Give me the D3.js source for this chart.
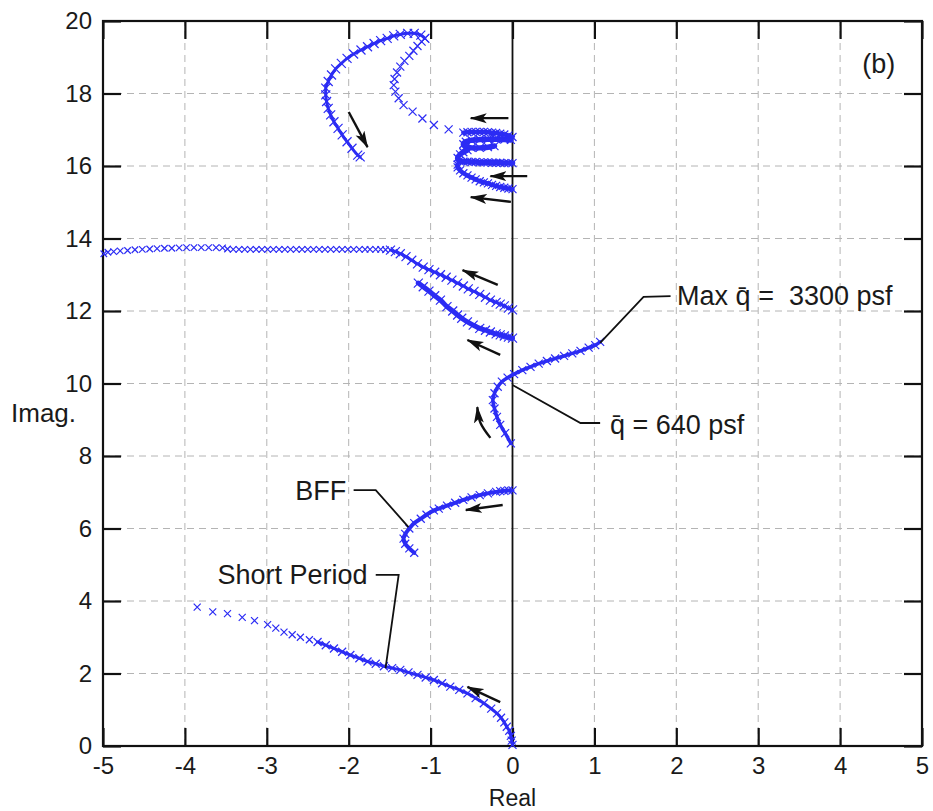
<!DOCTYPE html>
<html>
<head>
<meta charset="utf-8">
<script src="https://cdn.jsdelivr.net/npm/d3@7"></script>
<style>
  body { margin: 0; background: #fff; }
  text { font-family: 'Liberation Sans', Arial, sans-serif; fill: #1a1a1a; }
</style>
</head>
<body>
<svg id="locus" width="933" height="811"></svg>
<script>
// tick values
const xTicks = [-5, -4, -3, -2, -1, 0, 1, 2, 3, 4, 5]
const yTicks = [0, 2, 4, 6, 8, 10, 12, 14, 16, 18, 20]

// root locus branches, [real, imag]
const shortPeriodDense = [[0, 0.03], [-0.01, 0.15], [-0.02, 0.28], [-0.04, 0.42], [-0.07, 0.53], [-0.1, 0.65], [-0.14, 0.78],
  [-0.19, 0.9], [-0.26, 1.03], [-0.35, 1.18], [-0.45, 1.32], [-0.55, 1.45], [-0.65, 1.55], [-0.76, 1.64], [-0.86, 1.73],
  [-0.96, 1.82], [-1.06, 1.89], [-1.16, 1.96], [-1.27, 2.03], [-1.37, 2.1], [-1.47, 2.15], [-1.57, 2.2], [-1.67, 2.27],
  [-1.77, 2.33], [-1.87, 2.42], [-1.98, 2.51], [-2.08, 2.6], [-2.18, 2.69], [-2.28, 2.78], [-2.38, 2.87]]
const shortPeriodTail = [[-2.48, 2.93], [-2.59, 3.0], [-2.69, 3.07], [-2.79, 3.14], [-2.89, 3.25], [-2.99, 3.35], [-3.15, 3.46],
  [-3.3, 3.55], [-3.48, 3.65], [-3.66, 3.7], [-3.85, 3.83]]

const bff = [[0, 7.05], [-0.05, 7.05], [-0.1, 7.04], [-0.15, 7.03], [-0.2, 7.01], [-0.3, 6.97], [-0.4, 6.92], [-0.5, 6.86],
  [-0.6, 6.79], [-0.7, 6.71], [-0.8, 6.63], [-0.9, 6.55], [-0.96, 6.5], [-1.05, 6.38], [-1.12, 6.27], [-1.2, 6.15],
  [-1.26, 6.0], [-1.31, 5.85], [-1.33, 5.72], [-1.31, 5.58], [-1.26, 5.45], [-1.2, 5.33]]

const qbar = [[-0.02, 8.35], [-0.09, 8.63], [-0.15, 8.86], [-0.19, 9.08], [-0.22, 9.31], [-0.24, 9.54], [-0.22, 9.73],
  [-0.18, 9.91], [-0.13, 10.05], [-0.06, 10.16], [0.02, 10.26], [0.12, 10.37], [0.22, 10.46], [0.32, 10.55], [0.42, 10.62],
  [0.52, 10.69], [0.63, 10.76], [0.73, 10.83], [0.83, 10.9], [0.93, 10.99], [1.01, 11.06], [1.07, 11.15]]

const branch11 = [[0, 11.25], [-0.05, 11.28], [-0.1, 11.31], [-0.15, 11.34], [-0.2, 11.37], [-0.27, 11.42], [-0.33, 11.47],
  [-0.4, 11.52], [-0.48, 11.61], [-0.55, 11.7], [-0.62, 11.8], [-0.67, 11.89], [-0.73, 12.0], [-0.8, 12.12], [-0.88, 12.3],
  [-0.95, 12.42], [-1.02, 12.55], [-1.09, 12.67], [-1.15, 12.77]]

const branch12 = [[0, 12.03], [-0.05, 12.08], [-0.1, 12.14], [-0.15, 12.19], [-0.2, 12.24], [-0.27, 12.3], [-0.33, 12.38],
  [-0.4, 12.46], [-0.47, 12.54], [-0.54, 12.61], [-0.6, 12.69], [-0.67, 12.77], [-0.74, 12.85], [-0.81, 12.93], [-0.88, 13.0],
  [-0.95, 13.07], [-1.02, 13.14], [-1.09, 13.21], [-1.16, 13.3], [-1.23, 13.4], [-1.3, 13.5], [-1.37, 13.58], [-1.43, 13.64],
  [-1.49, 13.68]]
const branch12Flat = [[-1.55, 13.69], [-1.61, 13.7], [-1.67, 13.7], [-1.74, 13.7], [-1.8, 13.7], [-1.87, 13.7], [-1.94, 13.7],
  [-2.01, 13.7], [-2.08, 13.7], [-2.15, 13.7], [-2.22, 13.7], [-2.29, 13.7], [-2.36, 13.7], [-2.43, 13.7], [-2.5, 13.7],
  [-2.57, 13.7], [-2.64, 13.7], [-2.71, 13.7], [-2.78, 13.7], [-2.85, 13.7], [-2.92, 13.7], [-2.99, 13.7], [-3.06, 13.7],
  [-3.13, 13.7], [-3.2, 13.7], [-3.27, 13.7], [-3.34, 13.7], [-3.41, 13.7], [-3.48, 13.71], [-3.54, 13.74], [-3.62, 13.75],
  [-3.71, 13.75], [-3.8, 13.75], [-3.89, 13.75], [-3.98, 13.75], [-4.07, 13.74], [-4.16, 13.73], [-4.25, 13.73],
  [-4.34, 13.72], [-4.43, 13.71], [-4.52, 13.7], [-4.61, 13.69], [-4.7, 13.67], [-4.79, 13.66], [-4.87, 13.64],
  [-4.94, 13.62], [-4.99, 13.58]]

const cluster154 = [[0, 15.36], [-0.05, 15.38], [-0.1, 15.4], [-0.15, 15.42], [-0.2, 15.45], [-0.25, 15.48], [-0.3, 15.52],
  [-0.35, 15.55], [-0.4, 15.58], [-0.45, 15.63], [-0.5, 15.68], [-0.55, 15.74], [-0.6, 15.8], [-0.64, 15.88], [-0.67, 15.96],
  [-0.67, 16.04]]
const cluster161 = [[0, 16.08], [-0.05, 16.08], [-0.1, 16.08], [-0.15, 16.09], [-0.2, 16.09], [-0.25, 16.09], [-0.3, 16.1],
  [-0.35, 16.1], [-0.4, 16.1], [-0.45, 16.11], [-0.5, 16.11], [-0.55, 16.12], [-0.6, 16.12], [-0.65, 16.14], [-0.67, 16.22],
  [-0.64, 16.32], [-0.6, 16.38], [-0.55, 16.44]]
const cluster167 = [[-0.02, 16.72], [-0.1, 16.73], [-0.2, 16.74], [-0.3, 16.74], [-0.4, 16.73], [-0.5, 16.71], [-0.57, 16.67],
  [-0.6, 16.6], [-0.57, 16.53], [-0.5, 16.5], [-0.4, 16.5], [-0.3, 16.52], [-0.22, 16.55]]
const cluster168 = [[0, 16.8], [-0.05, 16.84], [-0.1, 16.87], [-0.15, 16.89], [-0.2, 16.91], [-0.25, 16.92], [-0.3, 16.93],
  [-0.35, 16.94], [-0.4, 16.94], [-0.45, 16.94], [-0.5, 16.94], [-0.55, 16.93], [-0.6, 16.92]]

const upperInner = [[-0.78, 17.01], [-0.96, 17.13], [-1.1, 17.31], [-1.22, 17.5], [-1.33, 17.68], [-1.39, 17.87], [-1.43, 18.05],
  [-1.45, 18.23], [-1.44, 18.4], [-1.41, 18.58], [-1.37, 18.74], [-1.32, 18.9], [-1.26, 19.04], [-1.21, 19.18], [-1.16, 19.31],
  [-1.11, 19.43], [-1.07, 19.52]]
const upperOuter = [[-1.07, 19.52], [-1.12, 19.61], [-1.2, 19.66], [-1.28, 19.66], [-1.37, 19.63], [-1.45, 19.59], [-1.53, 19.52],
  [-1.61, 19.46], [-1.69, 19.38], [-1.77, 19.29], [-1.85, 19.2], [-1.94, 19.09], [-2.02, 18.97], [-2.09, 18.83], [-2.16, 18.68],
  [-2.21, 18.51], [-2.25, 18.33], [-2.28, 18.15], [-2.28, 17.96], [-2.27, 17.78], [-2.25, 17.59], [-2.22, 17.41], [-2.18, 17.22],
  [-2.13, 17.04], [-2.08, 16.86], [-2.02, 16.67], [-1.96, 16.49], [-1.89, 16.3], [-1.86, 16.25]]

// direction arrows, [tail, (bend), head]
const arrows = [
  [[-2.0, 17.49], [-1.77, 16.52]],
  [[-0.05, 17.32], [-0.51, 17.32]],
  [[0.18, 15.72], [-0.27, 15.72]],
  [[-0.02, 15.01], [-0.51, 15.14]],
  [[-0.18, 12.72], [-0.61, 13.13]],
  [[-0.15, 10.79], [-0.55, 11.2]],
  [[-0.27, 8.5], [-0.39, 8.91], [-0.43, 9.35]],
  [[-0.12, 6.65], [-0.57, 6.51]],
  [[-0.15, 1.21], [-0.55, 1.63]]
]

// labels with their leader lines
const labels = [
  { text: 'Max q\u0304 =  3300 psf', at: [2.01, 12.16], anchor: 'start', leader: [[1.07, 11.12], [1.6, 12.39], [1.93, 12.41]] },
  { text: 'q\u0304 = 640 psf', at: [1.19, 8.62], anchor: 'start', leader: [[0, 9.96], [0.83, 8.91], [1.07, 8.91]] },
  { text: 'BFF', at: [-2.03, 6.8], anchor: 'end', leader: [[-1.94, 7.06], [-1.67, 7.06], [-1.27, 6.04]] },
  { text: 'Short Period', at: [-1.77, 4.47], anchor: 'end', leader: [[-1.67, 4.72], [-1.39, 4.72], [-1.55, 2.15]] },
  { text: '(b)', at: [4.27, 18.57], anchor: 'start', leader: null }
]

const width = 933
const height = 811
const margin = { left: 103, right: 11, top: 21, bottom: 65 }
const blue = '#2c2cf4'

const svg = d3.select('#locus')

const x = d3.scaleLinear().domain([-5, 5]).range([margin.left, width - margin.right])
const y = d3.scaleLinear().domain([0, 20]).range([height - margin.bottom, margin.top])

const plotW = width - margin.left - margin.right
const plotH = height - margin.top - margin.bottom

// dashed grid
const grid = svg.append('g')
grid.selectAll('.gx')
  .data(xTicks.slice(1, -1))
  .join('line')
  .attr('x1', d => x(d)).attr('x2', d => x(d))
  .attr('y1', y(0)).attr('y2', y(20))
grid.selectAll('.gy')
  .data(yTicks.slice(1, -1))
  .join('line')
  .attr('x1', x(-5)).attr('x2', x(5))
  .attr('y1', d => y(d)).attr('y2', d => y(d))
grid.selectAll('line')
  .attr('stroke', '#b4b4b4')
  .attr('stroke-width', 1)
  .attr('stroke-dasharray', '7,5')

// imaginary axis
svg.append('line')
  .attr('x1', x(0)).attr('x2', x(0))
  .attr('y1', y(0)).attr('y2', y(20))
  .attr('stroke', '#111')
  .attr('stroke-width', 1.8)

// axes with inward ticks, mirrored on top and right
const tickLen = 18
const plain = d => `${d}`
const axisStyle = g => {
  g.select('.domain').remove()
  g.selectAll('.tick line').attr('stroke', '#111').attr('stroke-width', 2.2)
  g.selectAll('.tick text').attr('font-size', 24).attr('font-family', "'Liberation Sans', Arial, sans-serif").attr('fill', '#1a1a1a')
}

svg.append('g')
  .attr('transform', `translate(0, ${y(0)})`)
  .call(d3.axisBottom(x).tickValues(xTicks).tickSize(-tickLen).tickPadding(9).tickFormat(plain))
  .call(axisStyle)
  .call(g => g.selectAll('.tick text').attr('dy', '0.8em'))

svg.append('g')
  .attr('transform', `translate(0, ${y(20)})`)
  .call(d3.axisTop(x).tickValues(xTicks).tickSize(-tickLen).tickFormat(''))
  .call(axisStyle)

svg.append('g')
  .attr('transform', `translate(${x(-5)}, 0)`)
  .call(d3.axisLeft(y).tickValues(yTicks).tickSize(-tickLen).tickPadding(11).tickFormat(plain))
  .call(axisStyle)

svg.append('g')
  .attr('transform', `translate(${x(5)}, 0)`)
  .call(d3.axisRight(y).tickValues(yTicks).tickSize(-tickLen).tickFormat(''))
  .call(axisStyle)

// frame
svg.append('rect')
  .attr('x', x(-5)).attr('y', y(20))
  .attr('width', plotW).attr('height', plotH)
  .attr('fill', 'none')
  .attr('stroke', '#111')
  .attr('stroke-width', 2.2)

// axis titles
svg.append('text')
  .attr('x', x(0)).attr('y', height - 5)
  .attr('text-anchor', 'middle')
  .attr('font-size', 23)
  .text('Real')

svg.append('text')
  .attr('x', 11).attr('y', y(8.95))
  .attr('font-size', 26)
  .text('Imag.')

// branches: dense ones get a band under the crosses
const line = d3.line().x(d => x(d[0])).y(d => y(d[1])).curve(d3.curveCatmullRom)

const branches = [
  { pts: shortPeriodDense, band: 3, size: 8 },
  { pts: shortPeriodTail, band: 0, size: 7 },
  { pts: bff, band: 4, size: 8 },
  { pts: qbar, band: 3.5, size: 8 },
  { pts: branch11, band: 5, size: 9 },
  { pts: branch12, band: 3, size: 9 },
  { pts: branch12Flat, band: 0, size: 6.5 },
  { pts: cluster154, band: 4.5, size: 8 },
  { pts: cluster161, band: 5.5, size: 8 },
  { pts: cluster167, band: 5.5, size: 8 },
  { pts: cluster168, band: 4.5, size: 8 },
  { pts: upperInner, band: 0, size: 8 },
  { pts: upperOuter, band: 3, size: 9 }
]

const locus = svg.append('g')

branches.filter(b => b.band > 0).forEach(b => {
  locus.append('path')
    .attr('d', line(b.pts))
    .attr('fill', 'none')
    .attr('stroke', blue)
    .attr('stroke-width', b.band)
    .attr('stroke-linecap', 'round')
})

branches.forEach(b => {
  const s = b.size / 2
  locus.append('g')
    .selectAll('path')
    .data(b.pts)
    .join('path')
    .attr('transform', d => `translate(${x(d[0])}, ${y(d[1])})`)
    .attr('d', `M${-s},${-s}L${s},${s}M${-s},${s}L${s},${-s}`)
    .attr('stroke', blue)
    .attr('stroke-width', 1.2)
})

// arrowhead
svg.append('defs').append('marker')
  .attr('id', 'head')
  .attr('markerUnits', 'userSpaceOnUse')
  .attr('markerWidth', 18).attr('markerHeight', 12)
  .attr('refX', 16).attr('refY', 6)
  .attr('orient', 'auto')
  .append('path')
  .attr('d', 'M0,1 L17,6 L0,11 L4,6 Z')
  .attr('fill', '#111')

const arrowLine = d3.line().x(d => x(d[0])).y(d => y(d[1])).curve(d3.curveNatural)

svg.append('g')
  .selectAll('path')
  .data(arrows)
  .join('path')
  .attr('d', d => arrowLine(d))
  .attr('fill', 'none')
  .attr('stroke', '#111')
  .attr('stroke-width', 2.4)
  .attr('marker-end', 'url(#head)')

// annotations
const leaderLine = d3.line().x(d => x(d[0])).y(d => y(d[1]))

labels.filter(l => l.leader).forEach(l => {
  svg.append('path')
    .attr('d', leaderLine(l.leader))
    .attr('fill', 'none')
    .attr('stroke', '#111')
    .attr('stroke-width', 1.8)
})

svg.append('g')
  .selectAll('text')
  .data(labels)
  .join('text')
  .attr('x', d => x(d.at[0]))
  .attr('y', d => y(d.at[1]))
  .attr('text-anchor', d => d.anchor)
  .attr('font-size', 27)
  .style('white-space', 'pre')
  .text(d => d.text)
</script>
</body>
</html>
